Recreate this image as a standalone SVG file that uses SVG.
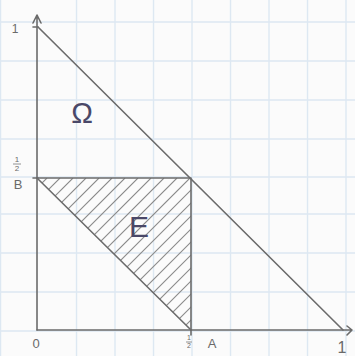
<svg xmlns="http://www.w3.org/2000/svg" width="355" height="356" viewBox="0 0 355 356">
<style>
.grid{stroke:#dde8f2;stroke-width:1.4;fill:none}
.ax{stroke:#6b6b6b;stroke-width:1.6;fill:none;stroke-linecap:round;stroke-linejoin:round}
.hatch{stroke:#8c8c8c;stroke-width:1.1;fill:none}
.lbl{font-family:"Liberation Sans",Arial,sans-serif;fill:#6a6a6a}
.big{font-family:"Liberation Sans",Arial,sans-serif;fill:#4a4868}
</style>
<defs>
<clipPath id="triClip"><polygon points="37,178 191,178 191,330"/></clipPath>
</defs>
<rect width="355" height="356" fill="#fbfbfb"/>
<g id="grid">
<path class="grid" d="M0.5 0V356M76.5 0V356M115 0V356M153.5 0V356M192 0V356M230.5 0V356M269 0V356M307.5 0V356M346 0V356"/>
<path class="grid" d="M0 22H355M0 61H355M0 100H355M0 139H355M0 177H355M0 214H355M0 253H355M0 292H355M0 331H355"/>
</g>
<g id="hatching" clip-path="url(#triClip)">
<path class="hatch" d="M-105 330L47 178M-92 330L60 178M-79 330L73 178M-66 330L86 178M-53 330L99 178M-40 330L112 178M-27 330L125 178M-14 330L138 178M-1 330L151 178M12 330L164 178M25 330L177 178M38 330L190 178M51 330L203 178M64 330L216 178M77 330L229 178M90 330L242 178M103 330L255 178M116 330L268 178M129 330L281 178M142 330L294 178M155 330L307 178M168 330L320 178M181 330L333 178"/>
</g>
<g id="connectors">
<path id="y-axis" class="ax" d="M37 330V15M33 23L37 15L41 23"/>
<path id="x-axis" class="ax" d="M37 330H352M347 326L352 330L347 335"/>
<path id="tick-y1" class="ax" d="M33 27H38"/>
<path id="tick-yhalf" class="ax" d="M33 178H38"/>
<path id="tick-xhalf" class="ax" d="M191 330V335"/>
<path id="hypotenuse" class="ax" d="M38 27L343 330"/>
<path id="half-line" class="ax" d="M37 178H191V330"/>
<path id="E-diagonal" class="ax" d="M37 178L191 330"/>
</g>
<g id="label-omega"><text class="big" x="82" y="123" font-size="29" text-anchor="middle">Ω</text></g>
<g id="label-E"><text class="big" x="139" y="237" font-size="30" text-anchor="middle">E</text></g>
<g id="labels">
<text class="lbl" x="15" y="33" font-size="12" text-anchor="middle">1</text>
<g id="frac-y">
<text class="lbl" x="17" y="162" font-size="8" text-anchor="middle">1</text>
<path d="M13 164H21" stroke="#7a7a7a" stroke-width="0.8"/>
<text class="lbl" x="17" y="171" font-size="8" text-anchor="middle">2</text>
</g>
<text class="lbl" x="18" y="189" font-size="13" text-anchor="middle">B</text>
<text class="lbl" x="36" y="348" font-size="13" text-anchor="middle">0</text>
<g id="frac-x">
<text class="lbl" x="189" y="340" font-size="7" text-anchor="middle">1</text>
<path d="M186 342H192" stroke="#7a7a7a" stroke-width="0.8"/>
<text class="lbl" x="189" y="348" font-size="7" text-anchor="middle">2</text>
</g>
<text class="lbl" x="212" y="348" font-size="13" text-anchor="middle">A</text>
<text class="lbl" x="342" y="353" font-size="16" text-anchor="middle">1</text>
</g>
</svg>
